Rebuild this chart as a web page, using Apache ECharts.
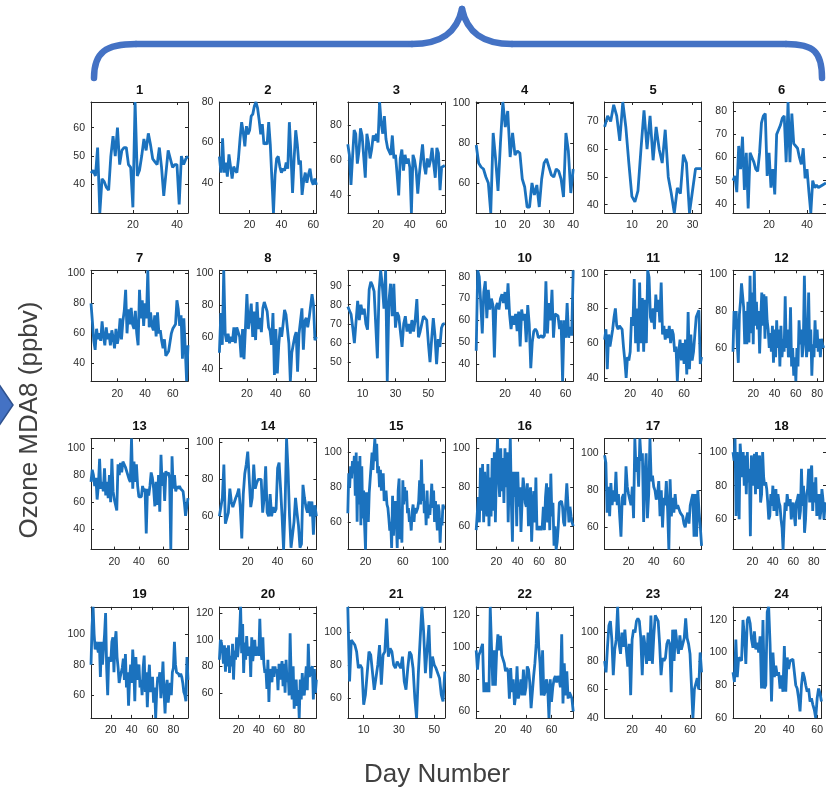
<!DOCTYPE html>
<html>
<head>
<meta charset="utf-8">
<script src="https://cdn.jsdelivr.net/npm/echarts@6/dist/echarts.min.js"></script>
<style>
  html, body { margin: 0; background: #fff; }
  #chart { width: 826px; height: 790px; }
</style>
</head>
<body>
<div id="chart"></div>
<script>
// daily ozone MDA8 (ppbv) per site
const site01 = [44,45,43,53,30,42,41,39,38,50,57,50,60,47,52,53,53,47,46,32,69,43,45,50,56,52,58,54,49,48,47,53,46,36,44,52,49,46,47,47,33,50,47,49,50];
const site02 = [53,45,62,45,50,43,54,48,42,48,46,45,52,62,70,65,58,68,64,66,73,74,78,80,77,71,64,69,59,60,59,70,59,42,25,44,52,53,48,45,47,46,50,47,70,54,35,52,66,59,49,51,34,41,45,40,44,47,41,39,42,39];
const site03 = [69,63,46,62,77,75,58,65,78,74,62,50,75,70,61,66,74,71,75,70,93,81,75,85,72,67,68,63,74,61,63,52,40,61,66,54,63,58,61,56,30,63,60,54,41,52,61,69,57,52,61,56,60,67,58,50,67,64,43,56,55,57];
const site04 = [79,70,68,67,63,60,45,85,72,56,80,100.5,88,96,73,85,74,76,75,62,58,48,48,60,54,59,48,62,70,72,68,64,63,67,66,62,53,85,76,55,67];
const site05 = [68,72,70,76,72,63,77,68,55,43,41,45,60,74,60,72,56,68,60,55,67,50,44,37,46,44,58,55,37,45,53,53,53];
const site06 = [50,52,45,65,55,69,46,62,38,62,60,58,55,54,62,75,78,79,52,62,47,55,44,70,72,74,77,78,58,84,58,79,66,66,64,60,57,64,51,55,45,36,50,47,48,47,47,48,48,49];
const site07 = [80,68,55,49,63,56,60,55,68,58,52,64,56,60,52,62,57,50,63,53,58,70,56,68,75,89,60,76,66,77,66,63,75,60,52,89,70,82,65,80,70,102,64,74,65,62,72,58,74,60,62,55,50,56,45,44,48,47,60,63,62,66,82,76,65,72,43,70,50,28,52];
const site08 = [50,75,55,102,62,57,62,56,60,57,66,56,66,65,60,47,65,46,66,87,65,72,81,60,76,58,82,65,72,63,78,82,83,76,66,64,55,75,36,65,37,55,66,60,68,77,74,65,56,32,50,55,60,63,38,62,70,78,52,70,72,66,72,71,87,80,58,60];
const site09 = [79,77,75,68,60,60,82,72,80,75,78,70,67,88,92,90,87,86,52,87,98,90,78,98,40,82,91,74,91,68,76,74,75,58,70,74,66,70,65,72,66,72,83,63,66,70,74,74,72,60,50,62,73,64,49,62,58,68,70,70];
const site10 = [46,83,80,68,54,73,78,61,74,65,70,67,43,66,68,65,70,72,68,73,65,77,63,56,62,58,63,55,64,48,65,60,63,50,67,58,38,50,55,56,55,52,52,53,52,53,78,54,68,60,74,52,63,63,62,56,60,32,60,52,68,52,57,53,83];
const site11 = [62,68,45,65,58,63,68,75,80,70,68,70,70,68,58,50,40,52,50,55,75,70,97,60,80,55,95,60,86,55,85,60,102,98,75,72,80,68,88,78,85,72,95,65,70,62,68,63,70,60,68,65,55,58,38,55,62,50,60,48,62,42,78,45,65,50,55,65,75,76,79,48,52];
const site12 = [58,80,70,80,62,52,78,85,95,95,82,62,80,62,85,63,99,68,90,62,102,72,85,70,80,57,75,90,72,89,65,88,75,70,60,68,58,72,52,70,55,75,60,70,50,72,55,65,58,88,60,70,55,58,82,50,60,45,55,42,60,50,75,62,70,55,62,99,72,55,62,90,58,70,45,62,55,75,60,70,58,65,55,65,62,60];
const site13 = [75,84,80,72,78,62,72,92,70,75,68,85,65,75,63,80,60,92,68,62,58,54,88,80,89,82,90,90,86,85,80,77,75,107,70,90,75,88,72,64,63,64,72,68,70,37,70,65,72,82,78,70,57,75,58,80,53,95,72,82,61,83,80,82,78,25,94,70,80,68,72,70,72,70,70,68,60,50,50,63];
const site14 = [60,65,70,88,56,56,62,75,68,65,66,70,72,75,65,48,72,83,88,95,94,65,70,88,75,78,80,81,80,62,70,87,62,60,72,60,65,62,64,86,89,75,60,42,65,102,85,60,43,50,57,70,62,55,43,45,77,70,65,62,68,60,68,50,66,60];
const site15 = [65,88,80,92,85,95,88,98,75,100,60,95,70,98,58,92,62,78,58,44,77,76,60,77,76,78,100,90,100,108,95,105,88,92,80,90,78,85,88,72,75,78,70,68,62,55,60,45,75,52,70,72,60,45,78,85,50,62,48,84,70,80,72,78,65,68,60,62,55,66,70,60,68,65,66,68,72,84,70,96,72,82,65,72,58,78,62,70,64,72,82,68,78,60,72,64,55,70,66,48,62,58,70,68,68];
const site16 = [58,57,75,62,90,68,92,62,88,72,65,92,60,85,65,95,68,98,62,90,105,85,75,100,78,95,72,100,80,98,62,85,105,72,52,88,75,88,60,88,70,80,57,72,85,80,72,70,82,60,75,80,52,68,78,62,85,58,60,58,60,58,60,70,58,75,82,62,80,58,87,65,72,50,60,48,52,60,72,72,73,70,62,60,72,82,83,62,70,65,62,60];
const site17 = [99,95,68,82,66,84,72,80,74,90,72,78,66,55,76,78,72,93,82,78,75,72,82,65,108,90,98,82,108,96,100,63,88,100,65,78,108,85,88,82,80,75,78,85,66,80,60,76,72,85,70,48,86,66,76,68,78,70,72,70,68,68,66,62,60,65,68,62,72,75,78,55,78,55,80,68,60,50];
const site18 = [100,95,108,62,100,90,60,105,95,85,100,80,98,75,100,82,90,50,98,85,80,99,75,100,78,95,98,70,75,100,85,80,82,78,70,60,62,75,68,80,65,72,78,62,75,70,68,60,55,42,58,70,65,75,70,68,72,60,65,70,62,56,70,72,75,60,65,90,68,80,52,60,75,78,90,70,88,92,65,82,70,85,62,68,75,60,65,78,72,60,68,70];
const site19 = [80,105,118,100,90,95,92,88,95,72,95,80,80,100,114,78,60,85,85,82,95,98,75,95,102,85,78,68,72,72,78,84,70,87,65,75,53,70,80,68,90,78,56,85,70,78,80,65,70,60,78,86,62,75,52,70,80,62,68,72,55,65,45,62,72,70,75,58,68,82,62,48,65,70,55,62,68,60,75,78,95,80,75,76,74,72,74,72,68,62,60,56,85,70];
const site20 = [85,100,98,92,82,96,76,94,80,96,75,88,80,97,70,92,85,102,87,88,105,125,90,112,75,98,85,103,88,92,95,72,102,84,92,100,88,95,92,88,116,92,85,102,82,75,78,63,85,53,78,72,68,80,72,80,75,78,62,82,70,78,84,65,82,60,85,68,75,58,105,72,55,80,48,62,70,50,62,41,70,55,75,62,58,70,80,62,97,72,75,78,80,55,78,60,70];
const site21 = [115,70,95,95,92,88,78,80,78,56,62,75,88,86,85,65,65,80,92,68,86,88,108,85,90,88,80,78,82,82,78,85,70,65,78,88,86,78,60,48,75,95,115,100,75,75,104,72,85,80,78,75,72,62,58,76];
const site22 = [98,86,95,97,98,102,72,78,72,78,72,125,100,76,98,76,97,108,98,107,95,95,90,85,87,85,68,87,72,80,64,70,88,68,72,80,70,86,70,75,88,86,78,62,72,82,90,102,122,100,90,70,98,70,72,80,75,56,80,66,75,80,82,78,82,80,75,108,65,90,70,85,68,72,70,68,60];
const site23 = [80,72,90,105,108,95,70,88,95,118,92,85,100,90,102,88,76,92,56,95,102,100,108,110,108,96,70,98,90,78,100,80,112,78,98,112,113,108,92,70,82,80,82,92,95,92,58,102,80,102,92,85,98,88,92,96,110,96,92,85,84,40,60,60,68,60,86,72];
const site24 = [88,82,108,85,97,98,95,120,110,93,120,122,118,108,103,113,102,106,100,110,78,120,78,80,125,128,105,70,100,85,92,86,88,78,86,76,104,76,97,90,95,94,96,88,80,78,72,64,80,88,85,80,76,78,70,72,68,65,60,72,78,75,70];

const sites = [site01,site02,site03,site04,site05,site06,site07,site08,site09,site10,site11,site12,
               site13,site14,site15,site16,site17,site18,site19,site20,site21,site22,site23,site24];
// first day number of each record (site 4 starts at 0)
const firstDay = [1,1,1,0,1,1, 1,1,1,1,1,1, 1,1,1,1,1,1, 1,1,1,1,1,1];

// tick labels of each small panel
const xTickLabels = [
  [20,40],[20,40,60],[20,40,60],[10,20,30,40],[10,20,30],[20,40],
  [20,40,60],[20,40,60],[10,30,50],[20,40,60],[20,40,60],[20,40,60,80],
  [20,40,60],[20,40,60],[20,60,100],[20,40,60,80],[20,40,60],[20,40,60,80],
  [20,40,60,80],[20,40,60,80],[10,30,50],[20,40,60],[20,40,60],[20,40,60]
];
const yTickLabels = [
  [40,50,60],[40,60,80],[40,60,80],[60,80,100],[40,50,60,70],[40,50,60,70,80],
  [40,60,80,100],[40,60,80,100],[50,60,70,80,90],[40,50,60,70,80],[40,60,80,100],[60,80,100],
  [40,60,80,100],[60,80,100],[60,80,100],[60,80,100],[60,80,100],[60,80,100],
  [60,80,100],[60,80,100,120],[60,80,100],[60,80,100,120],[40,60,80,100],[60,80,100,120]
];

const chart = echarts.init(document.getElementById('chart'));

const FONT = '"Liberation Sans", Arial, sans-serif';
const boxColor = '#262626';
const lineColor = '#1b72be';
const braceColor = '#4472c4';

const grids = [], xAxes = [], yAxes = [], series = [], graphics = [];

sites.forEach((vals, i) => {
  const r = Math.floor(i / 6), c = i % 6;
  const left = 91 + c * 128.4;
  const top = 102 + r * 168.3;
  const w = 97, h = 111;
  grids.push({ left, top, width: w, height: h });

  const x0 = firstDay[i];
  const x1 = x0 + vals.length - 1;
  const yMin = Math.min(...vals), yMax = Math.max(...vals);

  const baseLine = { show: true, onZero: false, lineStyle: { color: boxColor, width: 1 } };
  const tick = (t) => ({ show: true, inside: true, length: 3, customValues: t, lineStyle: { color: boxColor } });
  const label = { fontSize: 10.5, color: '#2b2b2b', fontFamily: FONT };

  xAxes.push({
    gridIndex: i, type: 'value', position: 'bottom', min: x0, max: x1,
    axisLine: baseLine, axisTick: tick(xTickLabels[i]), splitLine: { show: false },
    axisLabel: Object.assign({ customValues: xTickLabels[i], margin: 7 }, label)
  });
  xAxes.push({
    gridIndex: i, type: 'value', position: 'top', min: x0, max: x1,
    axisLine: baseLine, axisTick: tick(xTickLabels[i]), splitLine: { show: false },
    axisLabel: { show: false }
  });
  yAxes.push({
    gridIndex: i, type: 'value', position: 'left', min: yMin, max: yMax,
    axisLine: baseLine, axisTick: tick(yTickLabels[i]), splitLine: { show: false },
    axisLabel: Object.assign({ customValues: yTickLabels[i], margin: 6 }, label)
  });
  yAxes.push({
    gridIndex: i, type: 'value', position: 'right', min: yMin, max: yMax,
    axisLine: baseLine, axisTick: tick(yTickLabels[i]), splitLine: { show: false },
    axisLabel: { show: false }
  });

  series.push({
    type: 'line',
    xAxisIndex: i * 2, yAxisIndex: i * 2,
    data: vals.map((v, k) => [x0 + k, v]),
    showSymbol: false,
    lineStyle: { color: lineColor, width: 2.8 },
    animation: false
  });

  graphics.push({
    type: 'text', x: left + w / 2, y: top - 12,
    style: { text: String(i + 1), textAlign: 'center', textVerticalAlign: 'middle',
             font: 'bold 13px ' + FONT, fill: '#111' }
  });
});

// brace over the panels, drawn as curves and straight pieces
const braceStyle = { fill: 'none', stroke: braceColor, lineWidth: 6.5, lineCap: 'round' };
const curve = (x1, y1, cpx1, cpy1, cpx2, cpy2, x2, y2) =>
  ({ type: 'bezierCurve', shape: { x1, y1, cpx1, cpy1, cpx2, cpy2, x2, y2 }, style: braceStyle });
const straight = (x1, y1, x2, y2) => ({ type: 'line', shape: { x1, y1, x2, y2 }, style: braceStyle });
graphics.push(
  curve(94, 78, 94, 52, 106, 44, 136, 44),
  straight(136, 44, 412, 44),
  curve(412, 44, 442, 44, 457, 32, 462, 9),
  curve(462, 9, 467, 32, 482, 44, 512, 44),
  straight(512, 44, 786, 44),
  curve(786, 44, 814, 44, 822, 52, 822, 78)
);
// arrow tip at the left edge
graphics.push({
  type: 'polygon',
  shape: { points: [[-2, 383], [13, 405], [-2, 427]] },
  style: { fill: braceColor, stroke: '#2f528f', lineWidth: 1.5 }
});
graphics.push({
  type: 'text', x: 30, y: 420, rotation: Math.PI / 2,
  style: { text: 'Ozone MDA8 (ppbv)', textAlign: 'center', textVerticalAlign: 'middle',
           font: '26px ' + FONT, fill: '#404040' }
});
graphics.push({
  type: 'text', x: 437, y: 775,
  style: { text: 'Day Number', textAlign: 'center', textVerticalAlign: 'middle',
           font: '26px ' + FONT, fill: '#404040' }
});

chart.setOption({
  animation: false,
  grid: grids,
  xAxis: xAxes,
  yAxis: yAxes,
  series: series,
  graphic: graphics
});
</script>
</body>
</html>
